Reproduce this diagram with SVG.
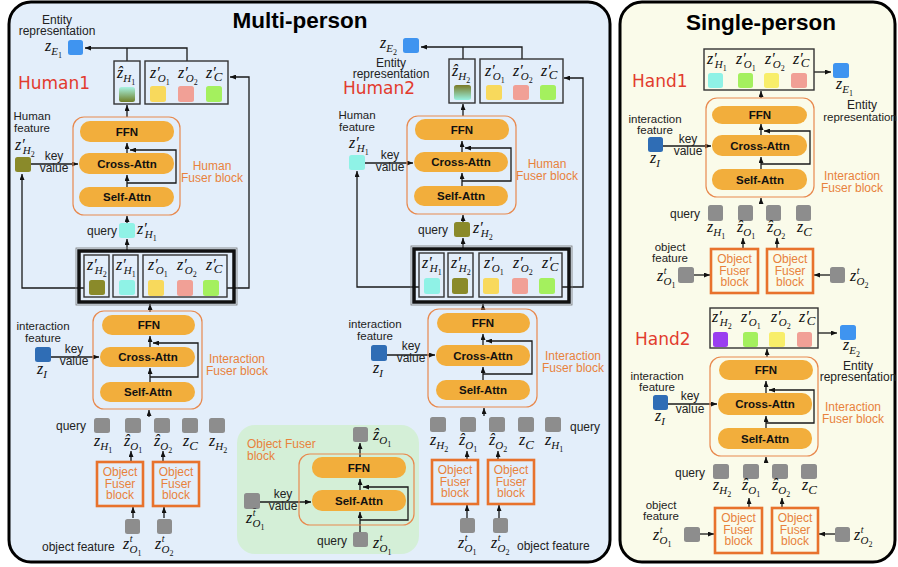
<svg xmlns="http://www.w3.org/2000/svg" width="898" height="567" viewBox="0 0 898 567">
<defs>
<style>
.panel-m{fill:#e3eefa;stroke:#000;stroke-width:3}
.panel-s{fill:#fafbea;stroke:#000;stroke-width:3}
.green{fill:#d4efd7}
.title{font-family:"Liberation Sans",Arial,sans-serif;font-weight:bold;font-size:22.5px;text-anchor:middle;fill:#000}
.t{font-family:"Liberation Sans",Arial,sans-serif;font-size:12px;fill:#222}
.t2{font-size:11.5px}
.tc{text-anchor:middle}
.te{text-anchor:end}
.or{fill:#e8823c}
.hand{font-family:"DejaVu Sans",sans-serif;font-size:17px;fill:#e23b2e}
.block{fill:none;stroke:#e8894e;stroke-width:1.2;rx:11px}
.pill{fill:#f2ae3c;rx:10px}
.pt{font-family:"Liberation Sans",Arial,sans-serif;font-weight:bold;font-size:11.5px;text-anchor:middle;fill:#111}
.ofb{fill:none;stroke:#e8722c;stroke-width:2.6}
.oft{font-family:"Liberation Sans",Arial,sans-serif;font-size:12px;text-anchor:middle;fill:#e8823c}
.box{fill:none;stroke:#333;stroke-width:1.4}
.thick{fill:none;stroke:#111;stroke-width:3.5}
.thin{fill:none;stroke:#777;stroke-width:0.8}
.sq{rx:2.5px}
.gray{fill:#8d8d8d}
.c{fill:none;stroke:#1a1a1a;stroke-width:1.3;marker-end:url(#ah)}
.cn{fill:none;stroke:#1a1a1a;stroke-width:1.3}
.m{font-family:"Liberation Serif","DejaVu Serif",serif;font-style:italic;font-size:16px;fill:#111}
.sb{font-size:11px}
.sC{font-size:13px}
.ss{font-size:8px;font-style:normal}
.sp{font-size:10px}
</style>
<marker id="ah" viewBox="0 0 6 5" refX="6" refY="2.5" markerWidth="6" markerHeight="5" markerUnits="userSpaceOnUse" orient="auto">
<path d="M0,0L6,2.5L0,5z" fill="#111"/>
</marker>
<linearGradient id="gH1" x1="0" y1="0" x2="0" y2="1">
<stop offset="0" stop-color="#a8f3e2"/><stop offset="1" stop-color="#6f7e26"/>
</linearGradient>
<linearGradient id="gH2" x1="0" y1="0" x2="0" y2="1">
<stop offset="0" stop-color="#7a7a26"/><stop offset="1" stop-color="#98f2e2"/>
</linearGradient>
</defs>

<rect width="898" height="567" fill="#fff"/>

<!-- panels -->
<g id="panel-multi">
<rect class="panel-m" x="9" y="2" width="601" height="560" rx="22"/>
<text class="title" x="300" y="28">Multi-person</text>
</g>
<g id="panel-single">
<rect class="panel-s" x="620" y="2" width="275" height="560" rx="22"/>
<text class="title" x="761" y="30">Single-person</text>
</g>
<g id="object-fuser-detail-bg">
<rect class="green" x="237" y="425" width="182" height="129" rx="18"/>
</g>

<!-- connectors -->
<g id="connectors">
<!-- Human1 -->
<path class="cn" d="M127,61V48"/>
<path class="c" d="M187,61V48H85"/>
<path class="c" d="M127,117V105"/>
<path class="c" d="M31,164H78"/>
<path class="c" d="M127,153V143"/>
<path class="c" d="M127,187V175"/>
<path class="c" d="M127,183H176V150H130"/>
<path class="c" d="M127,223V216"/>
<path class="c" d="M127,250V239"/>
<path class="c" d="M84,288H22V174"/>
<path class="c" d="M227,288H249V77H230"/>
<path class="c" d="M150,312V304"/>
<path class="c" d="M51,357H99"/>
<path class="c" d="M150,347V336"/>
<path class="c" d="M150,382V368"/>
<path class="c" d="M150,377H198V343H153"/>
<path class="c" d="M149,417V410"/>
<path class="c" d="M131,462V451"/>
<path class="c" d="M163,462V451"/>
<path class="c" d="M133,518V507"/>
<path class="c" d="M164,518V507"/>
<!-- object fuser detail -->
<path class="c" d="M360,457V443"/>
<path class="c" d="M360,490V479"/>
<path class="c" d="M360,532V512"/>
<path class="c" d="M360,520H408V487H363"/>
<path class="c" d="M260,502H311"/>
<!-- Human2 -->
<path class="cn" d="M463,59V47"/>
<path class="c" d="M522,59V47H421"/>
<path class="c" d="M463,116V104"/>
<path class="c" d="M365,163H413"/>
<path class="c" d="M462,152V141"/>
<path class="c" d="M462,186V173"/>
<path class="c" d="M462,181H511V148H465"/>
<path class="c" d="M463,222V215"/>
<path class="c" d="M463,248V238"/>
<path class="c" d="M419,287H357V171"/>
<path class="c" d="M562,287H583V78H564"/>
<path class="c" d="M483,309V304"/>
<path class="c" d="M387,355H435"/>
<path class="c" d="M483,345V334"/>
<path class="c" d="M483,380V367"/>
<path class="c" d="M483,374H532V341H486"/>
<path class="c" d="M484,416V408"/>
<path class="c" d="M467,460V451"/>
<path class="c" d="M498,460V451"/>
<path class="c" d="M467,518V505"/>
<path class="c" d="M499,518V505"/>
<!-- Hand1 -->
<path class="c" d="M814,72H831"/>
<path class="c" d="M761,98V91"/>
<path class="c" d="M663,146H711"/>
<path class="c" d="M761,135V124"/>
<path class="c" d="M761,169V157"/>
<path class="c" d="M761,164H810V131H764"/>
<path class="c" d="M761,204V198"/>
<path class="c" d="M743,249V238"/>
<path class="c" d="M777,249V238"/>
<path class="c" d="M694,275H710"/>
<path class="c" d="M830,275H814"/>
<!-- Hand2 -->
<path class="c" d="M818,333H837"/>
<path class="c" d="M767,357V349"/>
<path class="c" d="M668,404H717"/>
<path class="c" d="M766,393V381"/>
<path class="c" d="M766,428V416"/>
<path class="c" d="M766,423H814V390H769"/>
<path class="c" d="M766,463V457"/>
<path class="c" d="M749,508V498"/>
<path class="c" d="M782,508V498"/>
<path class="c" d="M700,534H714"/>
<path class="c" d="M835,534H819"/>
</g>

<!-- ================= Human1 ================= -->
<g id="h1-entity">
<text class="t tc" x="57" y="24">Entity</text>
<text class="t tc" x="57" y="35">representation</text>
<text class="m" x="45" y="51">z<tspan class="sb" dy="4">E</tspan><tspan class="ss" dy="3">1</tspan></text>
<rect class="sq" x="68" y="40" width="15" height="15" fill="#3f94f0"/>
</g>
<g id="h1-label"><text class="hand" x="18" y="89">Human1</text></g>
<g id="h1-zhat">
<rect class="box" x="114" y="61" width="26" height="43"/>
<text class="m" x="117" y="78">ẑ<tspan class="sb" dy="4">H</tspan><tspan class="ss" dy="3">1</tspan></text>
<rect class="sq" x="119" y="87" width="16" height="15" fill="url(#gH1)"/>
</g>
<g id="h1-out-tokens">
<rect class="box" x="145" y="61" width="83" height="43"/>
<text class="m" x="150" y="78">z′<tspan class="sb" dx="-2" dy="4">O</tspan><tspan class="ss" dy="3">1</tspan></text>
<text class="m" x="178" y="78">z′<tspan class="sb" dx="-2" dy="4">O</tspan><tspan class="ss" dy="3">2</tspan></text>
<text class="m" x="206" y="78">z′<tspan class="sC" dx="-2" dy="3">C</tspan></text>
<rect class="sq" x="150" y="86" width="16" height="16" fill="#f8d95c"/>
<rect class="sq" x="178" y="86" width="16" height="16" fill="#f1a096"/>
<rect class="sq" x="206" y="86" width="16" height="16" fill="#a4f05e"/>
</g>
<g id="h1-human-feature">
<text class="t t2 tc" x="32" y="120">Human</text>
<text class="t t2 tc" x="32" y="132">feature</text>
<text class="m" x="15" y="150">z′<tspan class="sb" dx="-2" dy="4">H</tspan><tspan class="ss" dy="3">2</tspan></text>
<rect class="sq" x="15" y="157" width="16" height="15" fill="#8a8a2a"/>
<text class="t tc" x="54" y="160">key</text>
<text class="t tc" x="54" y="172">value</text>
</g>
<g id="h1-human-fuser">
<rect class="block" x="73" y="117" width="107" height="98"/>
<rect class="pill" x="80" y="121" width="94" height="21"/>
<text class="pt" x="127" y="136">FFN</text>
<rect class="pill" x="79" y="153" width="95" height="21"/>
<text class="pt" x="127" y="168">Cross-Attn</text>
<rect class="pill" x="79" y="187" width="95" height="20"/>
<text class="pt" x="127" y="201">Self-Attn</text>
<text class="t tc or" x="212" y="170">Human</text>
<text class="t tc or" x="212" y="182">Fuser block</text>
</g>
<g id="h1-query">
<text class="t te" x="117" y="235">query</text>
<rect class="sq" x="119" y="223" width="16" height="15" fill="#8ff2e6"/>
<text class="m" x="137" y="234">z′<tspan class="sb" dx="-2" dy="4">H</tspan><tspan class="ss" dy="3">1</tspan></text>
</g>
<g id="h1-mid-tokens">
<rect class="thin" x="76" y="248" width="161" height="57"/>
<rect class="thick" x="79" y="251" width="155" height="51"/>
<rect class="box" x="84" y="255" width="25" height="42"/>
<text class="m" x="87" y="270">z′<tspan class="sb" dx="-2" dy="4">H</tspan><tspan class="ss" dy="3">2</tspan></text>
<rect class="sq" x="89" y="280" width="16" height="15" fill="#8a8a2a"/>
<rect class="box" x="113" y="255" width="25" height="42"/>
<text class="m" x="116" y="270">z′<tspan class="sb" dx="-2" dy="4">H</tspan><tspan class="ss" dy="3">1</tspan></text>
<rect class="sq" x="119" y="280" width="16" height="15" fill="#8ff2e6"/>
<rect class="box" x="143" y="255" width="84" height="42"/>
<text class="m" x="148" y="270">z′<tspan class="sb" dx="-2" dy="4">O</tspan><tspan class="ss" dy="3">1</tspan></text>
<text class="m" x="177" y="270">z′<tspan class="sb" dx="-2" dy="4">O</tspan><tspan class="ss" dy="3">2</tspan></text>
<text class="m" x="206" y="270">z′<tspan class="sC" dx="-2" dy="3">C</tspan></text>
<rect class="sq" x="148" y="280" width="16" height="16" fill="#f8d95c"/>
<rect class="sq" x="177" y="280" width="16" height="16" fill="#f1a096"/>
<rect class="sq" x="203" y="280" width="16" height="16" fill="#a4f05e"/>
</g>
<g id="h1-interaction-feature">
<text class="t t2 tc" x="43" y="330">interaction</text>
<text class="t t2 tc" x="43" y="342">feature</text>
<rect class="sq" x="35" y="347" width="16" height="15" fill="#2f6db5"/>
<text class="m" x="37" y="374">z<tspan class="sb" dy="4">I</tspan></text>
<text class="t tc" x="74" y="353">key</text>
<text class="t tc" x="74" y="365">value</text>
</g>
<g id="h1-interaction-fuser">
<rect class="block" x="93" y="311" width="109" height="98"/>
<rect class="pill" x="102" y="315" width="93" height="20"/>
<text class="pt" x="149" y="329">FFN</text>
<rect class="pill" x="100" y="347" width="95" height="20"/>
<text class="pt" x="148" y="361">Cross-Attn</text>
<rect class="pill" x="100" y="382" width="95" height="20"/>
<text class="pt" x="148" y="396">Self-Attn</text>
<text class="t tc or" x="237" y="363">Interaction</text>
<text class="t tc or" x="237" y="375">Fuser block</text>
</g>
<g id="h1-queries">
<text class="t te" x="86" y="430">query</text>
<rect class="sq gray" x="94" y="418" width="16" height="15"/>
<rect class="sq gray" x="125" y="418" width="16" height="15"/>
<rect class="sq gray" x="154" y="418" width="16" height="15"/>
<rect class="sq gray" x="182" y="418" width="16" height="15"/>
<rect class="sq gray" x="209" y="418" width="16" height="15"/>
<text class="m" x="94" y="446">z<tspan class="sb" dy="4">H</tspan><tspan class="ss" dy="3">1</tspan></text>
<text class="m" x="124" y="446">ẑ<tspan class="sb" dy="4">O</tspan><tspan class="ss" dy="3">1</tspan></text>
<text class="m" x="154" y="446">ẑ<tspan class="sb" dy="4">O</tspan><tspan class="ss" dy="3">2</tspan></text>
<text class="m" x="183" y="446">z<tspan class="sC" dy="4">C</tspan></text>
<text class="m" x="209" y="446">z<tspan class="sb" dy="4">H</tspan><tspan class="ss" dy="3">2</tspan></text>
</g>
<g id="h1-object-fuser-1">
<rect class="ofb" x="97" y="462" width="46" height="44"/>
<text class="oft" x="120" y="476">Object</text><text class="oft" x="120" y="488">Fuser</text><text class="oft" x="120" y="499">block</text>
</g>
<g id="h1-object-fuser-2">
<rect class="ofb" x="153" y="462" width="46" height="44"/>
<text class="oft" x="176" y="476">Object</text><text class="oft" x="176" y="488">Fuser</text><text class="oft" x="176" y="499">block</text>
</g>
<g id="h1-object-features">
<text class="t" x="42" y="551">object feature</text>
<rect class="sq gray" x="125" y="519" width="15" height="15"/>
<rect class="sq gray" x="157" y="519" width="15" height="15"/>
<text class="m" x="123" y="549">z<tspan class="sp" dx="0.5" dy="-7">t</tspan><tspan class="sb" dx="-3" dy="11">O</tspan><tspan class="ss" dy="3">1</tspan></text>
<text class="m" x="155" y="549">z<tspan class="sp" dx="0.5" dy="-7">t</tspan><tspan class="sb" dx="-3" dy="11">O</tspan><tspan class="ss" dy="3">2</tspan></text>
</g>

<!-- ================= Object Fuser block detail ================= -->
<g id="object-fuser-detail">
<text class="t or" x="247" y="448">Object Fuser</text>
<text class="t or" x="247" y="460">block</text>
<rect class="block" x="299" y="454" width="115" height="71"/>
<rect class="pill" x="312" y="457" width="94" height="21"/>
<text class="pt" x="359" y="472">FFN</text>
<rect class="pill" x="312" y="490" width="94" height="21"/>
<text class="pt" x="359" y="505">Self-Attn</text>
</g>
<g id="object-fuser-out">
<rect class="sq gray" x="353" y="427" width="15" height="15"/>
<text class="m" x="373" y="440">ẑ<tspan class="sb" dy="4">O</tspan><tspan class="ss" dy="3">1</tspan></text>
</g>
<g id="object-fuser-query">
<text class="t te" x="347" y="545">query</text>
<rect class="sq gray" x="353" y="532" width="15" height="15"/>
<text class="m" x="373" y="548">z<tspan class="sp" dx="0.5" dy="-7">t</tspan><tspan class="sb" dx="-3" dy="11">O</tspan><tspan class="ss" dy="3">1</tspan></text>
</g>
<g id="object-fuser-kv">
<rect class="sq gray" x="244" y="493" width="16" height="16"/>
<text class="m" x="246" y="523">z<tspan class="sp" dx="0.5" dy="-7">t̄</tspan><tspan class="sb" dx="-3" dy="11">O</tspan><tspan class="ss" dy="3">1</tspan></text>
<text class="t tc" x="283" y="498">key</text>
<text class="t tc" x="283" y="510">value</text>
</g>

<!-- ================= Human2 ================= -->
<g id="h2-entity">
<text class="m" x="380" y="48">z<tspan class="sb" dy="4">E</tspan><tspan class="ss" dy="3">2</tspan></text>
<rect class="sq" x="403" y="38" width="16" height="15" fill="#3f94f0"/>
<text class="t tc" x="391" y="67">Entity</text>
<text class="t tc" x="391" y="78">representation</text>
</g>
<g id="h2-label"><text class="hand" x="343" y="94">Human2</text></g>
<g id="h2-zhat">
<rect class="box" x="449" y="59" width="26" height="44"/>
<text class="m" x="452" y="76">ẑ<tspan class="sb" dy="4">H</tspan><tspan class="ss" dy="3">2</tspan></text>
<rect class="sq" x="454" y="85" width="17" height="15" fill="url(#gH2)"/>
</g>
<g id="h2-out-tokens">
<rect class="box" x="480" y="59" width="83" height="44"/>
<text class="m" x="485" y="76">z′<tspan class="sb" dx="-2" dy="4">O</tspan><tspan class="ss" dy="3">1</tspan></text>
<text class="m" x="513" y="76">z′<tspan class="sb" dx="-2" dy="4">O</tspan><tspan class="ss" dy="3">2</tspan></text>
<text class="m" x="541" y="76">z′<tspan class="sC" dx="-2" dy="3">C</tspan></text>
<rect class="sq" x="486" y="85" width="16" height="15" fill="#f8d95c"/>
<rect class="sq" x="513" y="85" width="16" height="15" fill="#f1a096"/>
<rect class="sq" x="540" y="85" width="16" height="15" fill="#a4f05e"/>
</g>
<g id="h2-human-feature">
<text class="t t2 tc" x="357" y="119">Human</text>
<text class="t t2 tc" x="357" y="131">feature</text>
<text class="m" x="349" y="148">z′<tspan class="sb" dx="-2" dy="4">H</tspan><tspan class="ss" dy="3">1</tspan></text>
<rect class="sq" x="349" y="155" width="16" height="15" fill="#8ff2e6"/>
<text class="t tc" x="390" y="159">key</text>
<text class="t tc" x="390" y="171">value</text>
</g>
<g id="h2-human-fuser">
<rect class="block" x="407" y="116" width="109" height="98"/>
<rect class="pill" x="415" y="119" width="94" height="21"/>
<text class="pt" x="462" y="134">FFN</text>
<rect class="pill" x="414" y="152" width="94" height="20"/>
<text class="pt" x="461" y="166">Cross-Attn</text>
<rect class="pill" x="414" y="186" width="94" height="20"/>
<text class="pt" x="461" y="200">Self-Attn</text>
<text class="t tc or" x="547" y="168">Human</text>
<text class="t tc or" x="547" y="180">Fuser block</text>
</g>
<g id="h2-query">
<text class="t te" x="448" y="234">query</text>
<rect class="sq" x="454" y="222" width="16" height="15" fill="#8a8a2a"/>
<text class="m" x="473" y="233">z′<tspan class="sb" dx="-2" dy="4">H</tspan><tspan class="ss" dy="3">2</tspan></text>
</g>
<g id="h2-mid-tokens">
<rect class="thin" x="411" y="246" width="161" height="59"/>
<rect class="thick" x="414" y="249" width="155" height="53"/>
<rect class="box" x="419" y="253" width="25" height="44"/>
<text class="m" x="422" y="268">z′<tspan class="sb" dx="-2" dy="4">H</tspan><tspan class="ss" dy="3">1</tspan></text>
<rect class="sq" x="424" y="278" width="16" height="16" fill="#8ff2e6"/>
<rect class="box" x="448" y="253" width="25" height="44"/>
<text class="m" x="451" y="268">z′<tspan class="sb" dx="-2" dy="4">H</tspan><tspan class="ss" dy="3">2</tspan></text>
<rect class="sq" x="452" y="278" width="16" height="16" fill="#8a8a2a"/>
<rect class="box" x="479" y="253" width="83" height="44"/>
<text class="m" x="484" y="268">z′<tspan class="sb" dx="-2" dy="4">O</tspan><tspan class="ss" dy="3">1</tspan></text>
<text class="m" x="513" y="268">z′<tspan class="sb" dx="-2" dy="4">O</tspan><tspan class="ss" dy="3">2</tspan></text>
<text class="m" x="542" y="268">z′<tspan class="sC" dx="-2" dy="3">C</tspan></text>
<rect class="sq" x="483" y="278" width="16" height="16" fill="#f8d95c"/>
<rect class="sq" x="512" y="278" width="16" height="16" fill="#f1a096"/>
<rect class="sq" x="539" y="278" width="16" height="16" fill="#a4f05e"/>
</g>
<g id="h2-interaction-feature">
<text class="t t2 tc" x="375" y="328">interaction</text>
<text class="t t2 tc" x="375" y="340">feature</text>
<rect class="sq" x="371" y="345" width="16" height="16" fill="#2f6db5"/>
<text class="m" x="373" y="373">z<tspan class="sb" dy="4">I</tspan></text>
<text class="t tc" x="411" y="350">key</text>
<text class="t tc" x="411" y="362">value</text>
</g>
<g id="h2-interaction-fuser">
<rect class="block" x="428" y="309" width="109" height="98"/>
<rect class="pill" x="437" y="313" width="93" height="20"/>
<text class="pt" x="483" y="327">FFN</text>
<rect class="pill" x="436" y="345" width="94" height="21"/>
<text class="pt" x="483" y="360">Cross-Attn</text>
<rect class="pill" x="436" y="380" width="94" height="20"/>
<text class="pt" x="483" y="394">Self-Attn</text>
<text class="t tc or" x="573" y="360">Interaction</text>
<text class="t tc or" x="573" y="372">Fuser block</text>
</g>
<g id="h2-queries">
<rect class="sq gray" x="430" y="417" width="16" height="15"/>
<rect class="sq gray" x="460" y="417" width="16" height="15"/>
<rect class="sq gray" x="489" y="417" width="16" height="15"/>
<rect class="sq gray" x="518" y="417" width="16" height="15"/>
<rect class="sq gray" x="545" y="417" width="16" height="15"/>
<text class="t" x="570" y="431">query</text>
<text class="m" x="430" y="445">z<tspan class="sb" dy="4">H</tspan><tspan class="ss" dy="3">2</tspan></text>
<text class="m" x="459" y="445">ẑ<tspan class="sb" dy="4">O</tspan><tspan class="ss" dy="3">1</tspan></text>
<text class="m" x="489" y="445">ẑ<tspan class="sb" dy="4">O</tspan><tspan class="ss" dy="3">2</tspan></text>
<text class="m" x="519" y="445">z<tspan class="sC" dy="4">C</tspan></text>
<text class="m" x="545" y="445">z<tspan class="sb" dy="4">H</tspan><tspan class="ss" dy="3">1</tspan></text>
</g>
<g id="h2-object-fuser-1">
<rect class="ofb" x="432" y="460" width="46" height="44"/>
<text class="oft" x="455" y="474">Object</text><text class="oft" x="455" y="486">Fuser</text><text class="oft" x="455" y="497">block</text>
</g>
<g id="h2-object-fuser-2">
<rect class="ofb" x="488" y="460" width="46" height="44"/>
<text class="oft" x="511" y="474">Object</text><text class="oft" x="511" y="486">Fuser</text><text class="oft" x="511" y="497">block</text>
</g>
<g id="h2-object-features">
<rect class="sq gray" x="460" y="518" width="15" height="15"/>
<rect class="sq gray" x="493" y="518" width="15" height="15"/>
<text class="m" x="458" y="548">z<tspan class="sp" dx="0.5" dy="-7">t</tspan><tspan class="sb" dx="-3" dy="11">O</tspan><tspan class="ss" dy="3">1</tspan></text>
<text class="m" x="491" y="548">z<tspan class="sp" dx="0.5" dy="-7">t</tspan><tspan class="sb" dx="-3" dy="11">O</tspan><tspan class="ss" dy="3">2</tspan></text>
<text class="t" x="517" y="550">object feature</text>
</g>

<!-- ================= Hand1 ================= -->
<g id="hand1-label"><text class="hand" x="632" y="87">Hand1</text></g>
<g id="hand1-out-tokens">
<rect class="box" x="704" y="49" width="110" height="41"/>
<text class="m" x="707" y="64">z′<tspan class="sb" dx="-2" dy="4">H</tspan><tspan class="ss" dy="3">1</tspan></text>
<text class="m" x="736" y="64">z′<tspan class="sb" dx="-2" dy="4">O</tspan><tspan class="ss" dy="3">1</tspan></text>
<text class="m" x="765" y="64">z′<tspan class="sb" dx="-2" dy="4">O</tspan><tspan class="ss" dy="3">2</tspan></text>
<text class="m" x="793" y="64">z′<tspan class="sC" dx="-2" dy="3">C</tspan></text>
<rect class="sq" x="708" y="73" width="15" height="15" fill="#8ff2e6"/>
<rect class="sq" x="738" y="73" width="15" height="15" fill="#a4f05e"/>
<rect class="sq" x="764" y="73" width="15" height="15" fill="#f8ee6a"/>
<rect class="sq" x="791" y="73" width="16" height="15" fill="#f1a096"/>
</g>
<g id="hand1-entity">
<rect class="sq" x="833" y="63" width="16" height="15" fill="#3f94f0"/>
<text class="m" x="836" y="89">z<tspan class="sb" dy="4">E</tspan><tspan class="ss" dy="3">1</tspan></text>
<text class="t tc" x="862" y="109">Entity</text>
<text class="t tc" x="860" y="121" style="font-size:11.5px">representation</text>
</g>
<g id="hand1-interaction-feature">
<text class="t t2 tc" x="655" y="123">interaction</text>
<text class="t t2 tc" x="655" y="134">feature</text>
<rect class="sq" x="648" y="137" width="15" height="15" fill="#2f6db5"/>
<text class="m" x="650" y="163">z<tspan class="sb" dy="4">I</tspan></text>
<text class="t tc" x="688" y="143">key</text>
<text class="t tc" x="688" y="155">value</text>
</g>
<g id="hand1-interaction-fuser">
<rect class="block" x="706" y="98" width="108" height="99"/>
<rect class="pill" x="712" y="106" width="95" height="18"/>
<text class="pt" x="760" y="119">FFN</text>
<rect class="pill" x="712" y="135" width="95" height="21"/>
<text class="pt" x="760" y="150">Cross-Attn</text>
<rect class="pill" x="712" y="169" width="95" height="21"/>
<text class="pt" x="760" y="184">Self-Attn</text>
<text class="t tc or" x="852" y="180">Interaction</text>
<text class="t tc or" x="852" y="192">Fuser block</text>
</g>
<g id="hand1-queries">
<text class="t te" x="700" y="218">query</text>
<rect class="sq gray" x="708" y="205" width="15" height="16"/>
<rect class="sq gray" x="738" y="205" width="15" height="16"/>
<rect class="sq gray" x="766" y="205" width="15" height="16"/>
<rect class="sq gray" x="796" y="205" width="15" height="16"/>
<text class="m" x="707" y="232">z<tspan class="sb" dy="4">H</tspan><tspan class="ss" dy="3">1</tspan></text>
<text class="m" x="737" y="232">ẑ<tspan class="sb" dy="4">O</tspan><tspan class="ss" dy="3">1</tspan></text>
<text class="m" x="767" y="232">ẑ<tspan class="sb" dy="4">O</tspan><tspan class="ss" dy="3">2</tspan></text>
<text class="m" x="797" y="232">z<tspan class="sC" dy="4">C</tspan></text>
</g>
<g id="hand1-object-fuser-1">
<rect class="ofb" x="711" y="249" width="47" height="44"/>
<text class="oft" x="734.5" y="263">Object</text><text class="oft" x="734.5" y="275">Fuser</text><text class="oft" x="734.5" y="286">block</text>
</g>
<g id="hand1-object-fuser-2">
<rect class="ofb" x="767" y="249" width="46" height="44"/>
<text class="oft" x="790" y="263">Object</text><text class="oft" x="790" y="275">Fuser</text><text class="oft" x="790" y="286">block</text>
</g>
<g id="hand1-object-features">
<text class="t t2 tc" x="670" y="251">object</text>
<text class="t t2 tc" x="670" y="262">feature</text>
<text class="m" x="657" y="281">z<tspan class="sp" dx="0.5" dy="-7">t</tspan><tspan class="sb" dx="-3" dy="11">O</tspan><tspan class="ss" dy="3">1</tspan></text>
<rect class="sq gray" x="678" y="267" width="16" height="16"/>
<rect class="sq gray" x="830" y="267" width="15" height="16"/>
<text class="m" x="850" y="281">z<tspan class="sp" dx="0.5" dy="-7">t</tspan><tspan class="sb" dx="-3" dy="11">O</tspan><tspan class="ss" dy="3">2</tspan></text>
</g>

<!-- ================= Hand2 ================= -->
<g id="hand2-label"><text class="hand" x="635" y="345">Hand2</text></g>
<g id="hand2-out-tokens">
<rect class="box" x="710" y="308" width="108" height="40"/>
<text class="m" x="712" y="322">z′<tspan class="sb" dx="-2" dy="4">H</tspan><tspan class="ss" dy="3">2</tspan></text>
<text class="m" x="741" y="322">z′<tspan class="sb" dx="-2" dy="4">O</tspan><tspan class="ss" dy="3">1</tspan></text>
<text class="m" x="771" y="322">z′<tspan class="sb" dx="-2" dy="4">O</tspan><tspan class="ss" dy="3">2</tspan></text>
<text class="m" x="799" y="322">z′<tspan class="sC" dx="-2" dy="3">C</tspan></text>
<rect class="sq" x="713" y="332" width="15" height="15" fill="#9a3ef0"/>
<rect class="sq" x="743" y="332" width="15" height="15" fill="#a4f05e"/>
<rect class="sq" x="769" y="332" width="16" height="15" fill="#f8ee6a"/>
<rect class="sq" x="797" y="332" width="15" height="15" fill="#f1a096"/>
</g>
<g id="hand2-entity">
<rect class="sq" x="840" y="325" width="16" height="15" fill="#3f94f0"/>
<text class="m" x="843" y="350">z<tspan class="sb" dy="4">E</tspan><tspan class="ss" dy="3">2</tspan></text>
<text class="t tc" x="858" y="370">Entity</text>
<text class="t tc" x="858" y="381">representation</text>
</g>
<g id="hand2-interaction-feature">
<text class="t t2 tc" x="657" y="380">interaction</text>
<text class="t t2 tc" x="657" y="391">feature</text>
<rect class="sq" x="653" y="395" width="15" height="15" fill="#2f6db5"/>
<text class="m" x="655" y="421">z<tspan class="sb" dy="4">I</tspan></text>
<text class="t tc" x="690" y="400">key</text>
<text class="t tc" x="690" y="413">value</text>
</g>
<g id="hand2-interaction-fuser">
<rect class="block" x="710" y="357" width="108" height="99"/>
<rect class="pill" x="719" y="360" width="94" height="20"/>
<text class="pt" x="766" y="374">FFN</text>
<rect class="pill" x="718" y="393" width="94" height="22"/>
<text class="pt" x="765" y="408">Cross-Attn</text>
<rect class="pill" x="718" y="428" width="94" height="21"/>
<text class="pt" x="765" y="443">Self-Attn</text>
<text class="t tc or" x="853" y="411">Interaction</text>
<text class="t tc or" x="853" y="423">Fuser block</text>
</g>
<g id="hand2-queries">
<text class="t te" x="705" y="477">query</text>
<rect class="sq gray" x="713" y="464" width="16" height="15"/>
<rect class="sq gray" x="743" y="464" width="16" height="15"/>
<rect class="sq gray" x="772" y="464" width="16" height="15"/>
<rect class="sq gray" x="801" y="464" width="16" height="15"/>
<text class="m" x="713" y="490">z<tspan class="sb" dy="4">H</tspan><tspan class="ss" dy="3">2</tspan></text>
<text class="m" x="742" y="490">ẑ<tspan class="sb" dy="4">O</tspan><tspan class="ss" dy="3">1</tspan></text>
<text class="m" x="772" y="490">ẑ<tspan class="sb" dy="4">O</tspan><tspan class="ss" dy="3">2</tspan></text>
<text class="m" x="802" y="490">z<tspan class="sC" dy="4">C</tspan></text>
</g>
<g id="hand2-object-fuser-1">
<rect class="ofb" x="715" y="508" width="47" height="45"/>
<text class="oft" x="738.5" y="522">Object</text><text class="oft" x="738.5" y="534">Fuser</text><text class="oft" x="738.5" y="545">block</text>
</g>
<g id="hand2-object-fuser-2">
<rect class="ofb" x="772" y="508" width="46" height="45"/>
<text class="oft" x="795" y="522">Object</text><text class="oft" x="795" y="534">Fuser</text><text class="oft" x="795" y="545">block</text>
</g>
<g id="hand2-object-features">
<text class="t t2 tc" x="661" y="509">object</text>
<text class="t t2 tc" x="661" y="520">feature</text>
<text class="m" x="653" y="540">z<tspan class="sp" dx="0.5" dy="-7">t</tspan><tspan class="sb" dx="-3" dy="11">O</tspan><tspan class="ss" dy="3">1</tspan></text>
<rect class="sq gray" x="684" y="527" width="16" height="15"/>
<rect class="sq gray" x="835" y="527" width="15" height="15"/>
<text class="m" x="854" y="540">z<tspan class="sp" dx="0.5" dy="-7">t</tspan><tspan class="sb" dx="-3" dy="11">O</tspan><tspan class="ss" dy="3">2</tspan></text>
</g>
</svg>
